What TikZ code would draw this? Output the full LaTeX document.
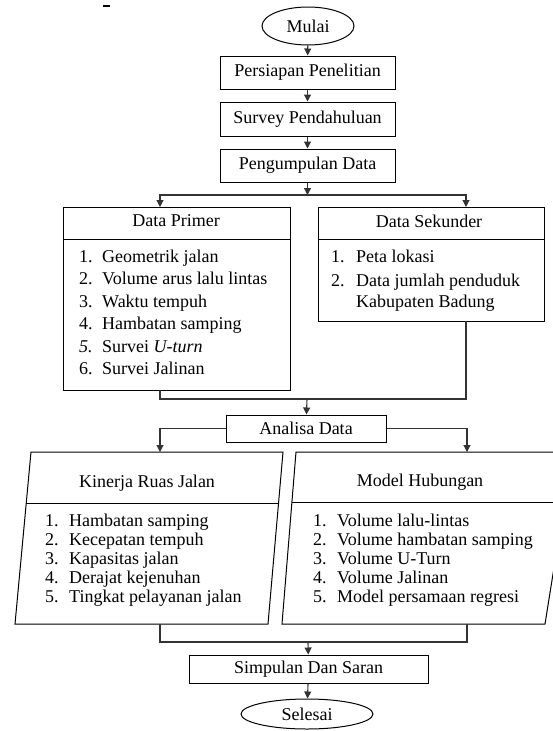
\documentclass[tikz,border=0pt]{standalone}
\usepackage{fontspec}
\setmainfont{Liberation Serif}
\usetikzlibrary{shapes.geometric,arrows.meta}
\newcommand\diagfont{\fontsize{18}{19}\selectfont}
\begin{document}
\begin{tikzpicture}[x=1pt,y=-1pt,
  every node/.style={font=\diagfont},
  box/.style={draw,line width=1pt,rectangle,inner sep=0pt},
  oval/.style={draw,line width=1pt,ellipse,inner sep=0pt},
  frame/.style={line width=1pt},
  conn/.style={line width=1.1pt,draw=black!80},
  arr/.style={conn,-{Triangle[length=7pt,width=7pt]}},
  head/.style={inner sep=0pt},
  item/.style={inner sep=0pt,anchor=base west}]
\fill[white] (0,0) rectangle (552,731);
\useasboundingbox (0,0) rectangle (552,731);

% small mark at top left
\draw[line width=1.5pt] (103,6) -- (110,6);

% main column
\node[oval,minimum width=92pt,minimum height=38pt] (mulai) at (308,26) {Mulai};
\node[box,minimum width=175pt,minimum height=33pt] (persiapan) at (307.5,72.5) {Persiapan Penelitian};
\node[box,minimum width=175pt,minimum height=34pt] (survey) at (307.5,119) {Survey Pendahuluan};
\node[box,minimum width=175pt,minimum height=33pt] (kumpul) at (307.5,165.5) {Pengumpulan Data};

\draw[arr] (mulai) -- (persiapan);
\draw[arr] (persiapan) -- (survey);
\draw[arr] (survey) -- (kumpul);

% data boxes
\node[box,minimum width=227pt,minimum height=183pt] (primer) at (176.5,298.5) {};
\node[box,minimum width=226pt,minimum height=114pt] (sekunder) at (431,264) {};
\draw[frame] (63,239) -- (290,239);
\draw[frame] (318,239) -- (544,239);
\node[head] (primerh) at (176,221) {Data Primer};
\node[head] (sekunderh) at (429,221) {Data Sekunder};

\coordinate (split1) at (307.5,195);
\coordinate (pin) at (160,207);
\coordinate (sin) at (466,207);
\draw[arr] (kumpul) -- (split1);
\draw[arr] (split1) -| (pin);
\draw[arr] (split1) -| (sin);

% primer list
\foreach \t [count=\i] in {Geometrik jalan,Volume arus lalu lintas,Waktu tempuh,Hambatan samping} {
  \node[item] (pn\i) at (79,{257+(\i-1)*22.5+5}) {\i.};
  \node[item] (pt\i) at (102,{257+(\i-1)*22.5+5}) {\t};
}
\node[item] (pn5) at (79,{257+4*22.5+5}) {\textit{5.}};
\node[item] (pt5) at (102,{257+4*22.5+5}) {Survei \textit{U-turn}};
\node[item] (pn6) at (79,{257+5*22.5+5}) {6.};
\node[item] (pt6) at (102,{257+5*22.5+5}) {Survei Jalinan};

% sekunder list
\node[item] (sn1) at (331,262) {1.};
\node[item] (st1) at (356,262) {Peta lokasi};
\node[item] (sn2) at (331,286) {2.};
\node[item] (st2) at (356,286) {Data jumlah penduduk};
\node[item] (st3) at (356,307) {Kabupaten Badung};

% merge to analisa
\coordinate (pout) at (160,390);
\coordinate (sout) at (466,321);
\coordinate (merge1) at (307,399);
\draw[conn] (pout) |- (merge1) -| (sout);
\node[box,minimum width=160pt,minimum height=27pt] (ana) at (306,428.5) {Analisa Data};
\draw[arr] (merge1) -- (ana);

\coordinate (kin) at (160,452);
\coordinate (mod) at (467,452);
\draw[arr] (ana.west) -| (kin);
\draw[arr] (ana.east) -| (mod);

% parallelograms
\draw[frame] (15,624) -- (268,624) -- (283,452) -- (31,452) -- cycle;
\draw[frame] (26.3,503) -- (278.5,503);
\draw[frame] (282,624) -- (545,624) -- (572.5,452) -- (296,452) -- cycle;
\draw[frame] (292,502) -- (564.5,502);
\node[head] (kinh) at (147,483) {Kinerja Ruas Jalan};
\node[head] (modh) at (420,482) {Model Hubungan};

\foreach \t [count=\i] in {Hambatan samping,Kecepatan tempuh,Kapasitas jalan,Derajat kejenuhan,Tingkat pelayanan jalan} {
  \node[item] (kn\i) at (45,{521+(\i-1)*19+5}) {\i.};
  \node[item] (kt\i) at (69,{521+(\i-1)*19+5}) {\t};
}
\foreach \t [count=\i] in {Volume lalu-lintas,Volume hambatan samping,Volume U-Turn,Volume Jalinan,Model persamaan regresi} {
  \node[item] (mn\i) at (313,{521+(\i-1)*19+5}) {\i.};
  \node[item] (mt\i) at (337,{521+(\i-1)*19+5}) {\t};
}

% merge to simpulan
\coordinate (kout) at (160,624);
\coordinate (mout) at (467,624);
\coordinate (merge2) at (308,642);
\draw[conn] (kout) |- (merge2) -| (mout);
\node[box,minimum width=239pt,minimum height=28pt] (simp) at (308.5,669) {Simpulan Dan Saran};
\draw[arr] (merge2) -- (simp);
\node[oval,minimum width=132pt,minimum height=30pt] (selesai) at (307,714) {Selesai};
\draw[arr] (simp) -- (selesai);
\end{tikzpicture}
\end{document}
